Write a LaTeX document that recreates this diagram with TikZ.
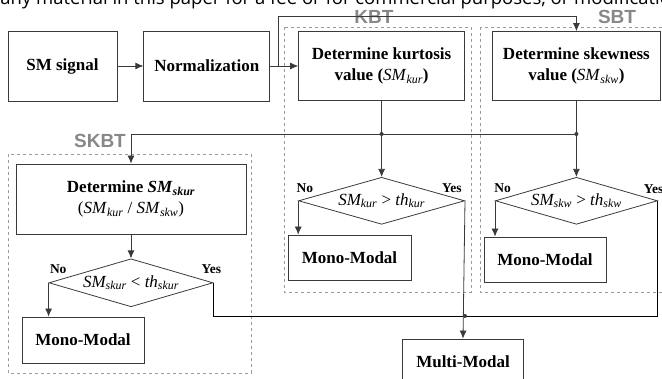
\documentclass[tikz,border=0pt]{standalone}
\usepackage{fontspec}
\setmainfont{Liberation Serif}
\setsansfont{Liberation Sans}
\newfontfamily\pagefont{Open Sans}
\usepackage{xcolor}
\usetikzlibrary{arrows.meta,positioning,shapes.geometric}
\definecolor{linegray}{HTML}{3A3A3A}
\definecolor{boxgray}{HTML}{9C9C9C}
\definecolor{labelgray}{HTML}{888888}
\newcommand{\SMsub}[1]{\textit{SM}\textsubscript{\itshape #1}}

\begin{document}
\begin{tikzpicture}[x=1pt,y=-1pt,line width=0.8pt,
	block/.style={draw=linegray,rectangle,align=center,inner sep=0pt,font=\fontsize{17}{21}\selectfont\bfseries},
	test/.style={draw=linegray,diamond,aspect=3.5,inner sep=0pt,minimum height=47pt,font=\fontsize{17}{21}\selectfont\itshape},
	group/.style={draw=boxgray,dashed,line width=0.6pt},
	grouplabel/.style={font=\fontsize{19}{19}\sffamily\bfseries,text=labelgray,inner sep=0pt},
	answer/.style={font=\fontsize{13.5}{14}\selectfont\bfseries,inner sep=0pt,text depth=0pt},
	arr/.style={-{Latex[length=8pt,width=7pt]},draw=linegray},
	dot/.style={circle,fill=linegray,inner sep=0pt,minimum size=4pt}]
	\useasboundingbox (0,0) rectangle (662,379);
	\clip (0,0) rectangle (662,379);
	\node[font=\pagefont\fontsize{18.5}{20}\selectfont,anchor=base west,inner sep=0pt] (pagetext) at (0,5) {any material in this paper for a fee or for commercial purposes, or modificatio};

	\draw[group] (284,27) rectangle (471,292);
	\draw[group] (480,27) rectangle (672,292);
	\draw[group] (8,154) rectangle (251,373);
	\node[grouplabel] (kbtlabel) at (374,17) {KBT};
	\node[grouplabel] (sbtlabel) at (617,17) {SBT};
	\node[grouplabel] (skbtlabel) at (100,141) {SKBT};

	\node[block,minimum width=109pt,minimum height=70pt] (signal) at (62.5,66) {SM signal};
	\node[block,minimum width=126pt,minimum height=70pt,right=26pt of signal] (norm) {Normalization};
	\node[block,minimum width=166pt,minimum height=69pt,right=28pt of norm] (kur) {Determine kurtosis\\value (\textmd{\SMsub{kur}})};
	\node[block,minimum width=168pt,minimum height=69pt,right=27pt of kur] (skw) {Determine skewness\\value (\textmd{\SMsub{skw}})};
	\node[block,minimum width=230pt,minimum height=70pt] (skur) at (131,199) {Determine \SMsub{skur}\\\textmd{(\SMsub{kur} / \SMsub{skw})}};

	\node[test,minimum width=166pt,below=76pt of kur] (tkur) {\SMsub{kur} \textup{>} th\textsubscript{kur}};
	\node[test,minimum width=162pt,below=76pt of skw] (tskw) {\SMsub{skw} \textup{>} th\textsubscript{skw}};
	\node[test,minimum width=164pt,minimum height=48pt,below=24pt of skur] (tskur) {\SMsub{skur} \textup{<} th\textsubscript{skur}};

	\node[block,minimum width=123pt,minimum height=45pt] (monokur) at (349.5,257.5) {Mono-Modal};
	\node[block,minimum width=122pt,minimum height=45pt] (monoskw) at (545,259.5) {Mono-Modal};
	\node[block,minimum width=122pt,minimum height=46pt] (monoskur) at (83,340) {Mono-Modal};
	\node[block,minimum width=121pt,minimum height=46pt] (multi) at (463,362) {Multi-Modal};

	\node[answer,above right=9pt and 1pt of tskur.west] (noskur) {No};
	\node[answer,above left=9pt and -8pt of tskur.east] (yesskur) {Yes};
	\node[answer,above right=8pt and -2pt of tkur.west] (nokur) {No};
	\node[answer,above left=8pt and 3pt of tkur.east] (yeskur) {Yes};
	\node[answer,above right=8pt and -1pt of tskw.west] (noskw) {No};
	\node[answer,above left=7pt and -6pt of tskw.east] (yesskw) {Yes};

	\coordinate (split) at ([xshift=8pt]norm.east);
	\coordinate (topy) at (0,16);
	\coordinate (midy) at (0,134);
	\coordinate (lowy) at (0,316);
	\draw[arr] (signal) -- (norm);
	\draw[arr] (norm) -- (kur);
	\draw[arr] (split) -- (split |- topy) -| (skw.north);
	\draw[arr] (kur) -- (tkur);
	\draw[arr] (skw) -- (tskw);
	\draw[arr] (skw.south |- midy) -| (skur.north);
	\draw[arr] (skur) -- (tskur);
	\node[dot] (dotkur) at (kur.south |- midy) {};
	\node[dot] (dotskw) at (skw.south |- midy) {};
	\draw[arr] (tkur.west) -- (tkur.west |- monokur.north);
	\draw[arr] (tskw.west) -- (tskw.west |- monoskw.north);
	\draw[arr] (tskur.west) -- (tskur.west |- monoskur.north);
	\draw (tskur.east) |- (tkur.east |- lowy);
	\draw (tskw.east) |- (tkur.east |- lowy);
	\draw[arr] (tkur.east) -- (multi.north);
	\node[dot] (dotmulti) at (tkur.east |- lowy) {};
\end{tikzpicture}
\end{document}
